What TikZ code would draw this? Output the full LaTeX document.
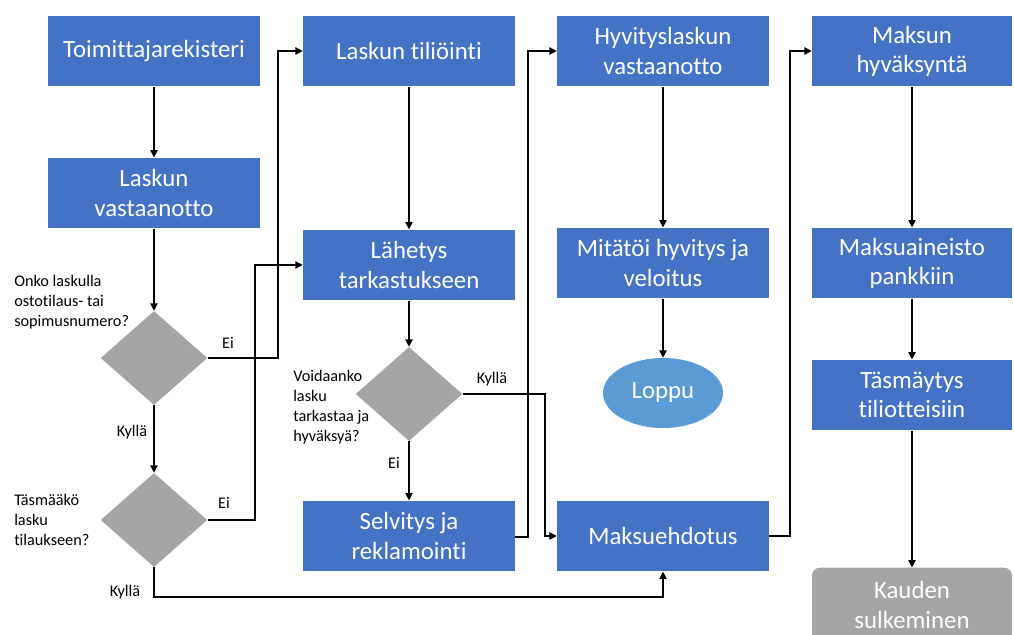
\documentclass[tikz,border=0pt]{standalone}
\usepackage{fontspec}
\setmainfont{Carlito}[Ligatures=NoCommon]
\usetikzlibrary{shapes.geometric,arrows.meta}
\definecolor{boxblue}{HTML}{4472C4}
\definecolor{dgray}{HTML}{A5A5A5}
\definecolor{ellblue}{HTML}{5B9BD5}
\tikzset{
  pbox/.style={rectangle,fill=boxblue,text=white,minimum width=159pt,minimum height=53pt,align=center,inner sep=0pt,font=\fontsize{18.6}{21.8}\selectfont},
  rbox/.style={pbox,minimum width=150pt},
  dia/.style={diamond,fill=dgray,minimum width=80pt,minimum height=70.5pt,inner sep=0pt},
  endell/.style={ellipse,fill=ellblue,text=white,minimum width=90pt,minimum height=52.5pt,inner sep=0pt,font=\fontsize{18.6}{21.8}\selectfont},
  gbox/.style={rectangle,rounded corners=6pt,fill=dgray,text=white,minimum width=150pt,minimum height=52pt,align=center,inner sep=0pt,font=\fontsize{18.6}{21.8}\selectfont},
  qlabel/.style={align=left,anchor=west,inner sep=0pt,font=\fontsize{12.2}{15}\selectfont},
  elab/.style={inner sep=0pt,font=\fontsize{12.2}{15}\selectfont},
  arr/.style={draw=black,line width=0.9pt,-{Triangle[length=5.5pt,width=5.5pt]}},
  ln/.style={draw=black,line width=0.9pt}
}
\begin{document}
\begin{tikzpicture}[x=0.75pt,y=-0.75pt]
\clip (0,0) rectangle (1014,635);
\fill[white] (0,0) rectangle (1014,635);
\useasboundingbox (0,0) rectangle (1014,635);
% column 1
\node[pbox] (toim) at (154,51) {Toimittajarekisteri};
\node[pbox] (lv) at (154,193) {Laskun\\vastaanotto};
\node[dia] (d1) at (154,358) {};
\node[dia] (d2) at (154,520) {};
% column 2
\node[pbox] (lt) at (409,51) {Laskun tiliöinti};
\node[pbox] (lah) at (409,265) {Lähetys\\tarkastukseen};
\node[dia] (d3) at (409,394) {};
\node[pbox] (selv) at (409,536) {Selvitys ja\\reklamointi};
% column 3
\node[pbox] (hyv) at (663,51) {Hyvityslaskun\\vastaanotto};
\node[pbox] (mit) at (663,263) {Mitätöi hyvitys ja\\veloitus};
\node[endell] (loppu) at (663,393) {Loppu};
\node[pbox] (maks) at (663,536) {Maksuehdotus};
% column 4
\node[rbox] (mh) at (912,51) {Maksun\\hyväksyntä};
\node[rbox] (ma) at (912,263) {Maksuaineisto\\pankkiin};
\node[rbox] (tas) at (912,395) {Täsmäytys\\tiliotteisiin};
\node[gbox,minimum height=56pt] (kaud) at (912,605) {Kauden\\sulkeminen};
% question labels
\node[qlabel] (q1) at (14,302) {Onko laskulla\\ostotilaus- tai\\sopimusnumero?};
\node[qlabel] (q2) at (14,520) {Täsmääkö\\lasku\\tilaukseen?};
\node[qlabel] (q3) at (293,407) {Voidaanko\\lasku\\tarkastaa ja\\hyväksyä?};
% turning points
\coordinate (j1) at (278,358);
\coordinate (j2) at (255,520);
\coordinate (j3) at (154,597);
\coordinate (j4) at (545,394);
\coordinate (j5) at (528,537);
\coordinate (j6) at (790,536);
% connectors
\draw[arr] (toim) -- (lv);
\draw[arr] (lv) -- (d1.north);
\draw[arr] (d1.south) -- (d2.north);
\draw[arr] (d1.east) -- (j1) |- (lt.west);
\draw[arr] (d2.east) -- (j2) |- (lah.west);
\draw[arr] (d2.south) -- (j3) -| (maks.south);
\draw[arr] (lt) -- (lah);
\draw[arr] (lah) -- (d3.north);
\draw[arr] (d3.south) -- (selv.north);
\draw[arr] (d3.east) -- (j4) |- (maks.west);
\draw[arr] (selv.east |- j5) -- (j5) |- (hyv.west);
\draw[arr] (hyv) -- (mit);
\draw[arr] (mit) -- (loppu);
\draw[arr] (maks.east) -- (j6) |- (mh.west);
\draw[arr] (mh) -- (ma);
\draw[arr] (ma) -- (tas);
\draw[arr] (tas) -- (kaud);
% edge labels
\node[elab] (e1) at (228,343) {Ei};
\node[elab] (k1) at (132,432) {Kyllä};
\node[elab] (e2) at (224,503) {Ei};
\node[elab] (k2) at (125,592) {Kyllä};
\node[elab] (k3) at (492,379) {Kyllä};
\node[elab] (e3) at (394,463) {Ei};
\end{tikzpicture}
\end{document}
